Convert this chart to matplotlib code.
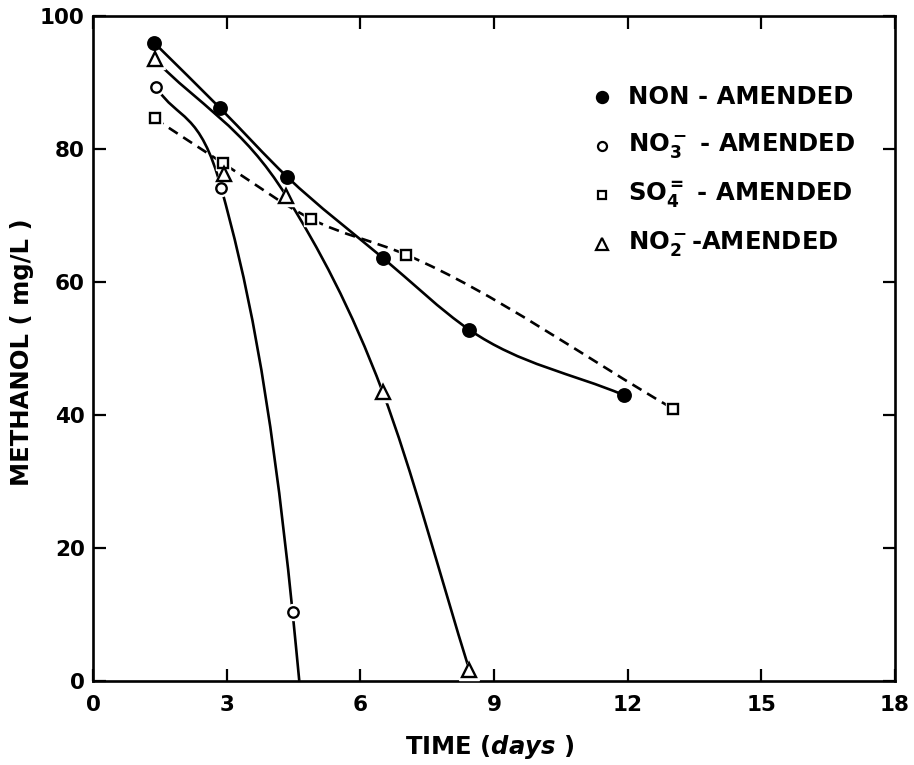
"""
Methanol degradation - amended vs non-amended
"""

import numpy as np
import matplotlib
matplotlib.use('Agg')
import matplotlib.pyplot as plt
from matplotlib.lines import Line2D
from matplotlib.path import Path
from matplotlib.patches import PathPatch

plt.rcParams['font.family'] = 'DejaVu Sans'
plt.rcParams['font.weight'] = 'bold'
plt.rcParams['mathtext.fontset'] = 'dejavusans'
plt.rcParams['mathtext.default'] = 'bf'

# ============================================================
#  data
# ============================================================
non_days = [1.37, 2.86, 4.36, 6.51, 8.45, 11.91]
non_meoh = [96.0, 86.1, 75.8, 63.6, 52.8, 43.0]

no3_days = [1.42, 2.88, 4.48]
no3_meoh = [89.3, 74.1, 10.3]
no3_depleted_day = 4.63          # curve reaches 0 mg/L here

so4_days = [1.38, 2.91, 4.89, 7.03, 13.03]
so4_meoh = [84.6, 77.9, 69.5, 64.1, 40.9]

no2_days = [1.38, 2.93, 4.34, 6.50, 8.45]
no2_meoh = [93.5, 76.3, 72.9, 43.5, 1.6]
no2_on_curve = [True, False, True, True, True]   # hand-drawn curve skips day 3

x_ticks = [0, 3, 6, 9, 12, 15, 18]
y_ticks = [0, 20, 40, 60, 80, 100]

legend_labels = ['NON - AMENDED',
                 r'NO$_3^-$ - AMENDED',
                 r'SO$_4^{=}$ - AMENDED',
                 r'NO$_2^-$-AMENDED']


def smooth_path(xs, ys):
    """x 기준 Hermite 곡선 (3점 포물선 기울기) -> Bezier path"""
    x = np.asarray(xs, float)
    y = np.asarray(ys, float)
    h = np.diff(x)
    d = np.diff(y) / h
    m = np.empty_like(y)
    m[0], m[-1] = d[0], d[-1]
    for i in range(1, len(x) - 1):
        m[i] = (h[i] * d[i - 1] + h[i - 1] * d[i]) / (h[i - 1] + h[i])
    verts = [(x[0], y[0])]
    codes = [Path.MOVETO]
    for i in range(len(x) - 1):
        verts += [(x[i] + h[i] / 3, y[i] + m[i] * h[i] / 3),
                  (x[i + 1] - h[i] / 3, y[i + 1] - m[i + 1] * h[i] / 3),
                  (x[i + 1], y[i + 1])]
        codes += [Path.CURVE4] * 3
    return Path(verts, codes)


def draw_curve(ax, xs, ys, ls='-'):
    patch = PathPatch(smooth_path(xs, ys), fill=False, edgecolor='black',
                      lw=1.9, linestyle=ls, capstyle='butt', zorder=2)
    ax.add_patch(patch)


def draw_marks(ax, xs, ys, marker, ms, filled=False):
    if not filled:
        ax.plot(xs, ys, ls='none', marker=marker, ms=ms + 4, mfc='white',
                mec='white', zorder=3)
    ax.plot(xs, ys, ls='none', marker=marker, ms=ms,
            mfc='black' if filled else 'white', mec='black', mew=1.7, zorder=4)


fig = plt.figure(figsize=(9.14, 7.65), dpi=100)
ax = fig.add_axes([0.1018, 0.110, 0.8772, 0.869])

# curves
draw_curve(ax, non_days, non_meoh)
draw_curve(ax, no3_days + [no3_depleted_day], no3_meoh + [0.0])
draw_curve(ax, so4_days, so4_meoh, ls=(0, (4, 2.5)))
draw_curve(ax, [d for d, k in zip(no2_days, no2_on_curve) if k],
           [v for v, k in zip(no2_meoh, no2_on_curve) if k])

# markers
draw_marks(ax, non_days, non_meoh, 'o', 9, filled=True)
draw_marks(ax, no3_days, no3_meoh, 'o', 7.5)
draw_marks(ax, so4_days, so4_meoh, 's', 6.5)
draw_marks(ax, no2_days, no2_meoh, '^', 10)

ax.set_xlim(0, 18)
ax.set_ylim(0, 100)
ax.set_xticks(x_ticks)
ax.set_yticks(y_ticks)
ax.tick_params(direction='in', length=9, width=1.6, top=True, right=True,
               labelsize=15.5)
ax.tick_params(axis='x', pad=10)
ax.tick_params(axis='y', pad=6)
for sp in ax.spines.values():
    sp.set_linewidth(1.9)

fig.text(22 / 914, 1 - 352 / 765, 'METHANOL ( mg/L )', rotation=90,
         ha='center', va='center', fontsize=17.5)
fig.text(490 / 914, 1 - 747 / 765, r'TIME ($\mathbfit{days}$ )',
         ha='center', va='center', fontsize=17.5)

# legend (hand placed like the original)
leg_marks = [('o', 8, True), ('o', 6.5, False), ('s', 6, False), ('^', 9, False)]
for i, (lab, (mk, ms, filled)) in enumerate(zip(legend_labels, leg_marks)):
    yf = 1 - (97 + 49 * i) / 765
    fig.lines.append(Line2D(
        [602 / 914], [yf], transform=fig.transFigure, ls='none', marker=mk,
        ms=ms, mfc='black' if filled else 'white', mec='black', mew=1.6))
    fig.text(628 / 914, yf, lab, ha='left', va='center', fontsize=17.5)

fig.savefig('out.png', dpi=100)
